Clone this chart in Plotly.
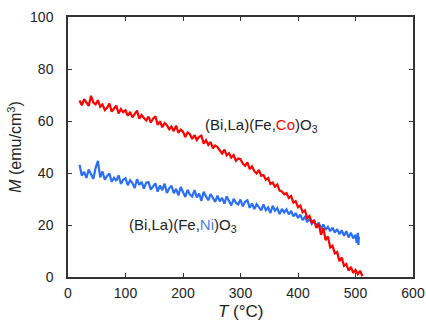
import plotly.graph_objects as go

# Temperature (°C) and magnetization (emu/cm^3)
T_co = [20, 24, 28, 32, 36, 40, 44, 48, 52, 56,
        60, 64, 68, 72, 76, 80, 84, 88, 92, 96,
        100, 104, 108, 112, 116, 120, 124, 128, 132, 136,
        140, 144, 148, 152, 156, 160, 164, 168, 172, 176,
        180, 184, 188, 192, 196, 200, 204, 208, 212, 216,
        220, 224, 228, 232, 236, 240, 244, 248, 252, 256,
        260, 264, 268, 272, 276, 280, 284, 288, 292, 296,
        300, 304, 308, 312, 316, 320, 324, 328, 332, 336,
        340, 344, 348, 352, 356, 360, 364, 368, 372, 376,
        380, 384, 388, 392, 396, 400, 404, 408, 412, 416,
        420, 424, 428, 432, 436, 440, 444, 448, 452, 456,
        460, 464, 468, 472, 476, 480, 484, 488, 492, 496,
        500, 504, 508, 512]
M_co = [67.9, 66.0, 68.4, 67.2, 65.8, 69.7, 67.1, 66.4, 68.0, 65.5,
        66.4, 64.2, 65.1, 66.7, 63.6, 64.8, 65.9, 62.9, 64.6, 63.4,
        64.1, 62.0, 63.5, 61.4, 62.6, 64.0, 60.9, 62.3, 61.1, 60.2,
        61.7, 59.4, 60.9, 61.8, 58.5, 59.9, 57.6, 59.2, 58.4, 56.8,
        57.9, 56.1, 58.2, 55.4, 56.7, 55.9, 53.8, 55.6, 54.9, 53.1,
        54.6, 52.7, 53.9, 54.4, 51.3, 52.6, 50.8, 51.9, 49.5, 50.6,
        49.9, 48.7, 47.5, 49.0, 46.8, 47.6, 45.9, 46.9, 44.7, 45.6,
        45.3, 43.6, 42.8, 44.1, 41.5, 42.6, 40.7, 39.8, 41.2, 38.9,
        39.2, 37.4, 38.1, 35.8, 36.3, 34.7, 35.6, 33.2, 32.9, 31.8,
        32.3, 30.4, 31.1, 28.6, 29.2, 26.8, 27.5, 24.9, 25.6, 22.7,
        23.5, 20.8, 21.9, 18.9, 20.5, 16.2, 18.8, 14.2, 15.6, 11.4,
        12.0, 9.1, 9.6, 6.1, 7.5, 4.3, 5.0, 2.4, 3.9, 1.6,
        2.7, 1.1, 2.4, 0.3]

T_ni = [20, 24, 28, 32, 36, 40, 44, 48, 52, 56,
        60, 64, 68, 72, 76, 80, 84, 88, 92, 96,
        100, 104, 108, 112, 116, 120, 124, 128, 132, 136,
        140, 144, 148, 152, 156, 160, 164, 168, 172, 176,
        180, 184, 188, 192, 196, 200, 204, 208, 212, 216,
        220, 224, 228, 232, 236, 240, 244, 248, 252, 256,
        260, 264, 268, 272, 276, 280, 284, 288, 292, 296,
        300, 304, 308, 312, 316, 320, 324, 328, 332, 336,
        340, 344, 348, 352, 356, 360, 364, 368, 372, 376,
        380, 384, 388, 392, 396, 400, 404, 408, 412, 416,
        420, 424, 428, 432, 436, 440, 444, 448, 452, 456,
        460, 464, 468, 472, 476, 480, 484, 488, 492, 496,
        500, 502, 504, 505, 506]
M_ni = [43.2, 39.0, 40.4, 38.1, 41.3, 39.6, 37.8, 41.9, 44.7, 38.3,
        40.6, 37.4, 38.9, 39.8, 36.6, 38.2, 37.0, 39.1, 35.8, 37.4,
        38.0, 35.3, 37.2, 36.1, 34.2, 37.6, 35.4, 36.6, 34.0, 36.3,
        36.5, 33.6, 34.9, 36.0, 32.8, 35.2, 33.4, 35.9, 32.3, 34.1,
        35.1, 32.2, 33.9, 31.4, 34.6, 32.9, 30.8, 33.5, 31.7, 30.9,
        33.4, 30.6, 32.1, 29.3, 32.8, 31.0, 29.5, 31.9, 30.3, 28.9,
        31.3, 29.1, 30.4, 28.2, 31.0, 29.4, 27.5, 30.1, 28.6, 27.9,
        29.8, 27.2, 28.9, 29.5, 26.6, 28.3, 26.1, 28.0, 27.0, 25.6,
        27.9, 25.7, 26.8, 24.6, 27.4, 25.5, 26.5, 24.2, 26.2, 24.8,
        26.0, 24.1, 25.4, 23.3, 24.6, 22.7, 24.0, 21.9, 23.1, 21.3,
        22.3, 20.4, 21.5, 19.6, 20.9, 18.7, 20.2, 18.1, 19.3, 17.6,
        19.0, 17.1, 18.4, 16.5, 17.9, 15.9, 17.6, 15.2, 17.0, 14.9,
        16.2, 13.1, 17.0, 12.3, 15.5]

x_ticks = [0, 100, 200, 300, 400, 500, 600]
y_ticks = [0, 20, 40, 60, 80, 100]

RED = "#ff0000"
BLUE = "#2a6ff5"
FONT = "Liberation Sans, Arial, sans-serif"

fig = go.Figure()
fig.add_trace(go.Scatter(x=T_ni, y=M_ni, mode="lines",
                         line=dict(color=BLUE, width=2.2), showlegend=False))
fig.add_trace(go.Scatter(x=T_co, y=M_co, mode="lines",
                         line=dict(color=RED, width=2.2), showlegend=False))

fig.add_annotation(x=336, y=58.3, xref="x", yref="y", showarrow=False,
                   text="(Bi,La)(Fe,<span style='color:#ff0000'>Co</span>)O<sub>3</sub>",
                   font=dict(family=FONT, size=15, color="#222"))
fig.add_annotation(x=200, y=19.9, xref="x", yref="y", showarrow=False,
                   text="(Bi,La)(Fe,<span style='color:#4a7fe0'>Ni</span>)O<sub>3</sub>",
                   font=dict(family=FONT, size=15, color="#222"))
# x-axis title
fig.add_annotation(x=0.5, y=-0.133, xref="paper", yref="paper", showarrow=False,
                   yanchor="middle", text="<i>T</i> (°C)",
                   font=dict(family=FONT, size=17, color="#222"))

axis_common = dict(showline=True, linecolor="#333", linewidth=1.5, mirror="ticks",
                   ticks="inside", ticklen=4, tickwidth=1.2, tickcolor="#333",
                   showgrid=False, zeroline=False, automargin=False,
                   tickfont=dict(family=FONT, size=14, color="#222"))

fig.update_xaxes(range=[0, 600], tickvals=x_ticks, ticktext=[str(v) for v in x_ticks],
                 ticklabelstandoff=2, **axis_common)
fig.update_yaxes(range=[0, 100], tickvals=y_ticks, ticktext=[str(v) for v in y_ticks],
                 ticklabelstandoff=10,
                 title=dict(text="<i>M</i> (emu/cm<sup>3</sup>)",
                            font=dict(family=FONT, size=16, color="#222"), standoff=4),
                 **axis_common)

fig.update_layout(width=426, height=322, plot_bgcolor="white", paper_bgcolor="white",
                  margin=dict(l=68, r=13, t=17, b=45), showlegend=False)

# remove the default page margin so the figure fills the window from its top-left corner
fig.write_html("out.html", config={"displayModeBar": False},
               post_script="document.body.style.margin='0';document.body.style.overflow='hidden';")
